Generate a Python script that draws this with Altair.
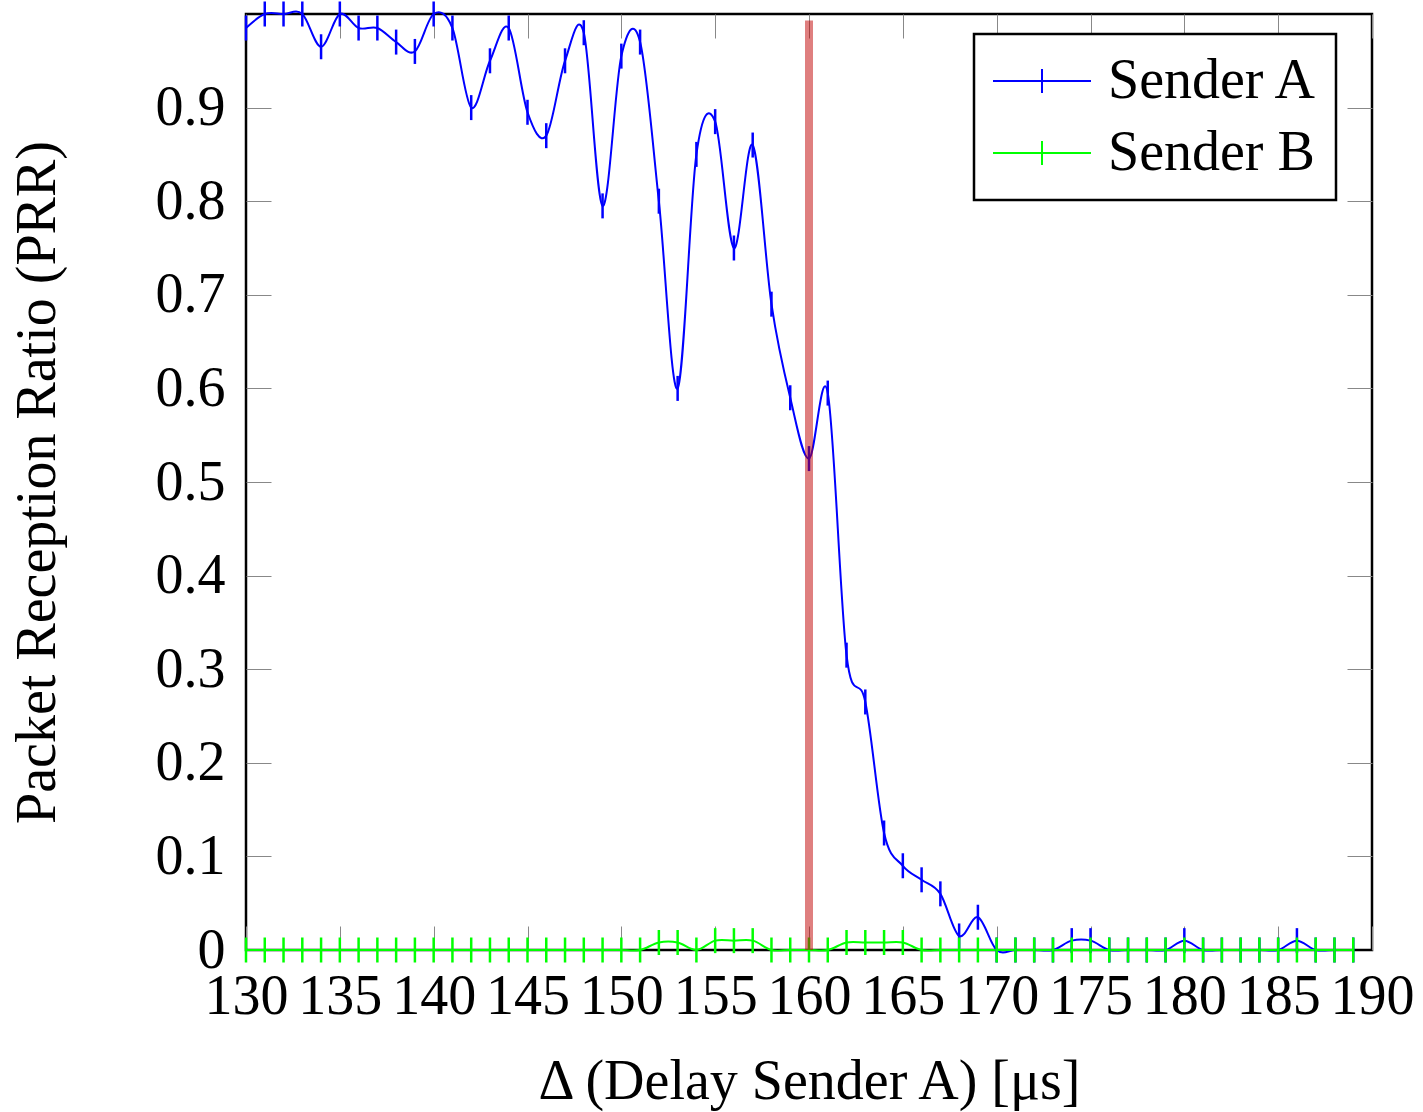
import altair as alt
import pandas as pd

# ---- data ----
delay = list(range(130, 190))
sender_a = [0.985, 1.0, 1.0, 1.0, 0.965, 1.0, 0.985, 0.985, 0.97, 0.96,
            1.0, 0.985, 0.90, 0.95, 0.985, 0.895, 0.87, 0.95, 0.98, 0.795,
            0.955, 0.97, 0.80, 0.60, 0.85, 0.885, 0.75, 0.86, 0.69, 0.59,
            0.525, 0.595, 0.315, 0.265, 0.125, 0.09, 0.075, 0.06, 0.015, 0.035,
            0.0, 0.0, 0.0, 0.0, 0.01, 0.01, 0.0, 0.0, 0.0, 0.0,
            0.01, 0.0, 0.0, 0.0, 0.0, 0.0, 0.01, 0.0, 0.0, 0.0]
sender_b = [0.0, 0.0, 0.0, 0.0, 0.0, 0.0, 0.0, 0.0, 0.0, 0.0,
            0.0, 0.0, 0.0, 0.0, 0.0, 0.0, 0.0, 0.0, 0.0, 0.0,
            0.0, 0.0, 0.008, 0.008, 0.0, 0.01, 0.01, 0.01, 0.0, 0.0,
            0.0, 0.0, 0.008, 0.008, 0.008, 0.008, 0.0, 0.0, 0.0, 0.0,
            0.0, 0.0, 0.0, 0.0, 0.0, 0.0, 0.0, 0.0, 0.0, 0.0,
            0.0, 0.0, 0.0, 0.0, 0.0, 0.0, 0.0, 0.0, 0.0, 0.0]
series_names = ["Sender A", "Sender B"]
series_colors = ["#0000ff", "#00ff00"]
x_ticks = [130, 135, 140, 145, 150, 155, 160, 165, 170, 175, 180, 185, 190]
y_ticks = [0, 0.1, 0.2, 0.3, 0.4, 0.5, 0.6, 0.7, 0.8, 0.9]
y_inner_ticks = [0.1, 0.2, 0.3, 0.4, 0.5, 0.6, 0.7, 0.8, 0.9]
marker_delay = [160]
marker_y = [0]
marker_y2 = [0.993]

x_title = "Δ (Delay Sender A) [μs]"
y_title = "Packet Reception Ratio (PRR)"

df = pd.DataFrame({
    "delay": delay + delay,
    "prr": sender_a + sender_b,
    "series": [series_names[0]] * len(delay) + [series_names[1]] * len(delay),
    "order": [0] * len(delay) + [1] * len(delay),
})
rule_df = pd.DataFrame({"delay": marker_delay, "y": marker_y, "y2": marker_y2})

FONT = "Liberation Serif"
FS = 56

x_scale = alt.Scale(domain=[130, 190], nice=False, zero=False)
y_scale = alt.Scale(domain=[0, 1], nice=False, zero=False)

legend_symbol = "M-1,0L1,0M0,-0.245L0,0.245"
legend = alt.Legend(
    title=None, orient="none", legendX=728, legendY=20,
    symbolType=legend_symbol, symbolSize=9604, symbolStrokeWidth=2,
    labelFont=FONT, labelFontSize=FS, labelColor="black", labelOffset=16,
    labelLimit=0,
    padding=18, rowPadding=14, clipHeight=58,
    strokeColor="black", fillColor="white", cornerRadius=0,
)
color = alt.Color("series:N", scale=alt.Scale(domain=series_names, range=series_colors),
                  legend=legend)

x_main_axis = alt.Axis(
    orient="bottom", values=x_ticks, format="d", grid=False, domain=False,
    ticks=False, tickSize=0, labelFont=FONT, labelFontSize=FS, labelColor="black",
    labelPadding=63, labelBaseline="alphabetic", labelFlush=False, labelOverlap=False,
    title=x_title, titleFont=FONT, titleFontSize=FS, titleFontWeight="normal",
    titleColor="black", titleX=563, titleY=148, titleBaseline="alphabetic",
    titleAlign="center",
)
y_main_axis = alt.Axis(
    orient="left", values=y_ticks, grid=False, domain=False, ticks=False, tickSize=0,
    labelExpr="datum.value == 0 ? '0' : format(datum.value, '.1f')",
    labelFont=FONT, labelFontSize=FS, labelColor="black", labelPadding=21,
    labelOverlap=False, labelFlush=False,
    title=y_title, titleFont=FONT, titleFontSize=FS, titleFontWeight="normal",
    titleColor="black", titleAngle=270, titleX=-192, titleY=468,
    titleBaseline="alphabetic", titleAlign="center",
)


def tick_axis(orient, values, size):
    return alt.Axis(orient=orient, offset=-size, values=values, grid=False,
                    domain=False, labels=False, ticks=True, tickSize=size,
                    tickColor="#888888", tickWidth=1, title=None)


lines = alt.Chart(df).mark_line(interpolate="cardinal", strokeWidth=2).encode(
    x=alt.X("delay:Q", scale=x_scale, axis=x_main_axis),
    y=alt.Y("prr:Q", scale=y_scale, axis=y_main_axis),
    color=color,
    order="order:Q",
)

points = alt.Chart(df).mark_point(shape="M0,-1L0,1", size=625, filled=False,
                                  strokeWidth=2.5, opacity=1).encode(
    x=alt.X("delay:Q", scale=x_scale, axis=None),
    y=alt.Y("prr:Q", scale=y_scale, axis=None),
    color=color,
    order="order:Q",
)

rule = alt.Chart(rule_df).mark_rule(color="#c00000", opacity=0.5, strokeWidth=8).encode(
    x=alt.X("delay:Q", scale=x_scale, axis=None),
    y=alt.Y("y:Q", scale=y_scale, axis=None),
    y2="y2:Q",
)

ticks_bl = alt.Chart(df).mark_point(opacity=0).encode(
    x=alt.X("delay:Q", scale=x_scale, axis=tick_axis("bottom", x_ticks, 24)),
    y=alt.Y("prr:Q", scale=y_scale, axis=tick_axis("left", y_inner_ticks, 25)),
)
ticks_tr = alt.Chart(df).mark_point(opacity=0).encode(
    x=alt.X("delay:Q", scale=x_scale, axis=tick_axis("top", x_ticks, 24)),
    y=alt.Y("prr:Q", scale=y_scale, axis=tick_axis("right", y_inner_ticks, 25)),
)

chart = alt.layer(lines, ticks_bl, ticks_tr, points, rule).resolve_axis(
    x="independent", y="independent"
).properties(
    width=1126, height=936,
    padding={"left": 246, "top": 14, "right": 51, "bottom": 162},
    autosize=alt.AutoSizeParams(type="none"),
    background="white",
).configure_view(
    stroke="black", strokeWidth=2.5
).configure_legend(
    strokeWidth=2.5
)

chart.save("out.html", embed_options={"renderer": "svg", "actions": False})
